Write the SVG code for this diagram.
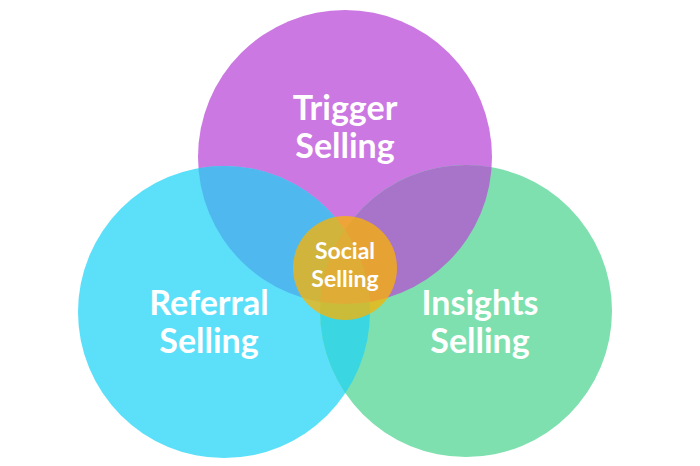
<svg xmlns="http://www.w3.org/2000/svg" width="700" height="466" viewBox="0 0 700 466">
  <style>
    .lbl { font-family: Lato, "Open Sans", "Liberation Sans", sans-serif; font-weight: 700; fill: #ffffff; text-anchor: middle; }
    .big { font-size: 34px; }
    .small { font-size: 23px; }
  </style>
  <defs>
    <clipPath id="cTop"><circle cx="345" cy="157" r="147"/></clipPath>
    <clipPath id="cLeft"><circle cx="224" cy="312" r="146"/></clipPath>
    <clipPath id="cRight"><circle cx="466" cy="311" r="146"/></clipPath>
  </defs>
  <rect width="700" height="466" fill="#ffffff"/>
  <g id="trigger">
    <circle cx="345" cy="157" r="147" fill="#CC78E2"/>
  </g>
  <g id="referral">
    <circle cx="224" cy="312" r="146" fill="#5CE0FA"/>
  </g>
  <g id="insights">
    <circle cx="466" cy="311" r="146" fill="#7EE0AE"/>
  </g>
  <g id="overlaps">
    <circle cx="224" cy="312" r="146" fill="#4FB8EE" clip-path="url(#cTop)"/>
    <circle cx="466" cy="311" r="146" fill="#A874C9" clip-path="url(#cTop)"/>
    <circle cx="466" cy="311" r="146" fill="#3AD6E2" clip-path="url(#cLeft)"/>
    <g clip-path="url(#cTop)">
      <circle cx="466" cy="311" r="146" fill="#8C9AD8" clip-path="url(#cLeft)"/>
    </g>
  </g>
  <g id="social">
    <circle cx="345" cy="268" r="52" fill="#FBB300" fill-opacity="0.75"/>
    <text class="lbl small" x="345" y="259">Social</text>
    <text class="lbl small" x="345" y="287">Selling</text>
  </g>
  <g id="trigger-label">
    <text class="lbl big" x="345" y="120">Trigger</text>
    <text class="lbl big" x="345" y="158">Selling</text>
  </g>
  <g id="referral-label">
    <text class="lbl big" x="209" y="315">Referral</text>
    <text class="lbl big" x="209" y="353">Selling</text>
  </g>
  <g id="insights-label">
    <text class="lbl big" x="480" y="315">Insights</text>
    <text class="lbl big" x="480" y="353">Selling</text>
  </g>
</svg>
